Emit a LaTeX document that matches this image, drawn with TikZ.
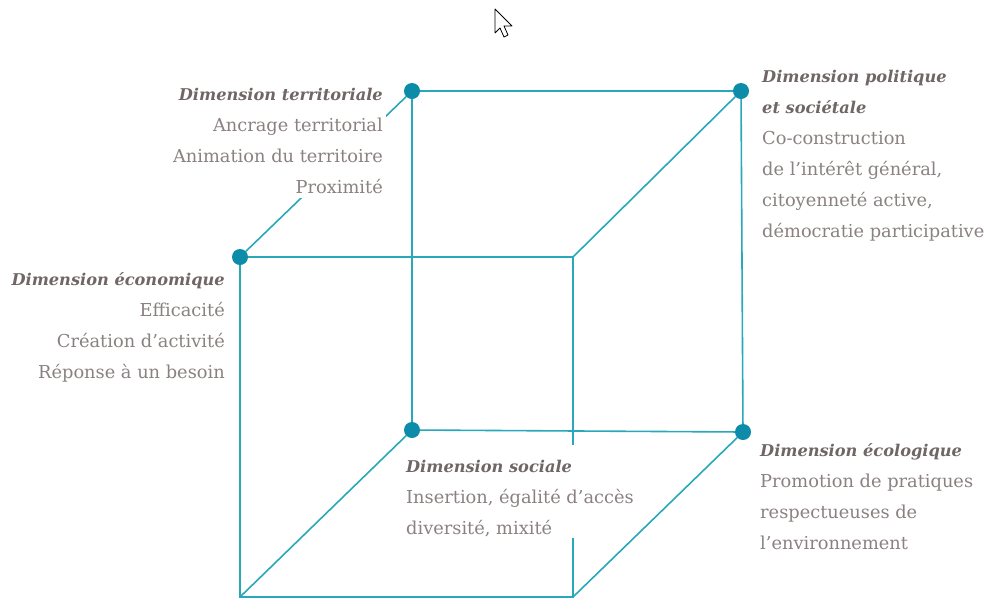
\documentclass[tikz,border=0pt]{standalone}
\usepackage{fontspec}
\setmainfont{DejaVu Serif}
\usetikzlibrary{positioning}
\definecolor{cubeline}{RGB}{40,168,184}
\definecolor{cubedot}{RGB}{12,140,168}
\definecolor{txtgrey}{RGB}{138,130,128}
\definecolor{headgrey}{RGB}{112,102,102}
\tikzset{
    dot/.style={circle, fill=cubedot, inner sep=0pt, minimum size=16pt}, % sommets marques du cube
    cube edge/.style={cubeline, line width=1.6pt}, % aretes du cube
    dimtext/.style={text=txtgrey, fill=white, inner xsep=3pt, inner ysep=4pt, font=\fontsize{17.8}{31}\selectfont} % blocs de texte
}
\newcommand{\dimhead}[1]{{\fontsize{16.2}{31}\selectfont\bfseries\itshape\color{headgrey}#1}}

\begin{document}
\begin{tikzpicture}[x=1pt, y=-1pt]
            \useasboundingbox (0,0) rectangle (986,598);
            
            \node[dot] (terr) at (412,91) {};
            \node[dot] (pol) at (741,91) {};
            \node[dot] (econ) at (240,257) {};
            \node[dot] (soc) at (412,430) {};
            \node[dot] (ecol) at (743,432) {};
            \coordinate (ftr) at (573,257);
            \coordinate (fbr) at (573,597);
            \coordinate (fbl) at (240,597);
            
            \draw[cube edge] (terr) -- (pol) -- (ecol) -- (soc) -- (terr);
            \draw[cube edge] (econ) -- (ftr) -- (fbr) -- (fbl) -- (econ);
            \draw[cube edge] (econ) -- (terr);
            \draw[cube edge] (ftr) -- (pol);
            \draw[cube edge] (fbl) -- (soc);
            
            \node[dimtext, align=right, anchor=north east] (terrtxt) at (386,84) {\dimhead{Dimension territoriale}\\Ancrage territorial\\Animation du territoire\\Proximité};
            \node[dimtext, align=left, anchor=north west] (poltxt) at (759,66) {\dimhead{Dimension politique}\\\dimhead{et sociétale}\\Co-construction\\de l’intérêt général,\\citoyenneté active,\\démocratie participative};
            \node[dimtext, align=right, anchor=north east] (econtxt) at (228,268) {\dimhead{Dimension économique}\\Efficacité\\Création d’activité\\Réponse à un besoin};
            \node[dimtext, align=left, anchor=north west, inner ysep=1pt] (soctxt) at (403,445) {\rule{0pt}{26pt}\dimhead{Dimension sociale}\\Insertion, égalité d’accès\\diversité, mixité};
            \node[dimtext, align=left, anchor=north west] (ecoltxt) at (757,439) {\dimhead{Dimension écologique}\\Promotion de pratiques\\respectueuses de\\l’environnement};
            
            \draw[cube edge] (fbr) -- (ecol);
            
            \draw[fill=white, line width=0.8pt, line join=round] (495,9) -- ++(0,24) -- ++(5,-5) -- ++(4,9) -- ++(4,-2) -- ++(-4,-9) -- ++(8,0) -- cycle;
\end{tikzpicture}
\end{document}
